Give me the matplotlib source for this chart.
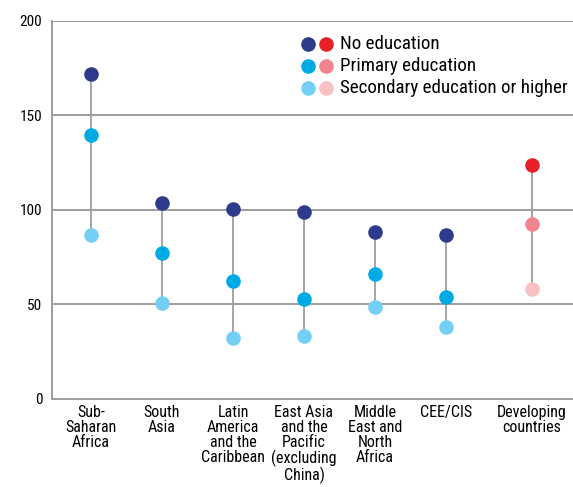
import matplotlib.pyplot as plt

categories = [
    "Sub-\nSaharan\nAfrica",
    "South\nAsia",
    "Latin\nAmerica\nand the\nCaribbean",
    "East Asia\nand the\nPacific\n(excluding\nChina)",
    "Middle\nEast and\nNorth\nAfrica",
    "CEE/CIS",
    "Developing\ncountries",
]
no_education = [172, 103.7, 100.5, 99, 88.4, 86.8, 123.8]
primary = [139.7, 77.2, 62.4, 52.9, 66.1, 54, 92.6]
secondary = [86.8, 50.8, 32.3, 33.3, 48.7, 38.1, 58.2]
yticks = [0, 50, 100, 150, 200]

plt.rcParams["font.family"] = ["Roboto Condensed", "DejaVu Sans"]

blue = ["#2e3a8c", "#00aae4", "#74cff4"]
red = ["#e8202a", "#f0848e", "#f8c1c3"]
grey = "#9d9d9d"

x = [0, 1, 2, 3, 4, 5, 6.21]

fig = plt.figure(figsize=(5.73, 4.87), dpi=100)
ax = fig.add_axes([0.0908, 0.1807, 0.9092, 0.7762])

for y in yticks[1:]:
    ax.axhline(y, color=grey, lw=1.4, zorder=1)

for i in range(len(categories)):
    cols = red if i == len(categories) - 1 else blue
    ax.plot([x[i], x[i]], [secondary[i], no_education[i]], color=grey, lw=1.3, zorder=2)
    ax.plot(x[i], no_education[i], "o", color=cols[0], ms=10.5, mec="none", zorder=3)
    ax.plot(x[i], primary[i], "o", color=cols[1], ms=10.5, mec="none", zorder=3)
    ax.plot(x[i], secondary[i], "o", color=cols[2], ms=10.5, mec="none", zorder=3)

ax.set_xlim(-0.55, 6.79)
ax.set_ylim(0, 200)
ax.set_yticks(yticks)
ax.set_xticks(x)
ax.set_xticklabels(categories, linespacing=1.0, va="top")
ax.tick_params(axis="both", length=0, labelsize=11)
ax.tick_params(axis="x", labelsize=11.5, pad=4)
ax.tick_params(axis="y", pad=7)

for s in ["top", "right"]:
    ax.spines[s].set_visible(False)
for s in ["left", "bottom"]:
    ax.spines[s].set_color(grey)
    ax.spines[s].set_linewidth(1.4)

labels = ["No education", "Primary education", "Secondary education or higher"]
for k, lab in enumerate(labels):
    yy = 0.94 - k * 0.058
    ax.plot(0.492, yy, "o", color=blue[k], ms=10.5, mec="none", transform=ax.transAxes, clip_on=False)
    ax.plot(0.526, yy, "o", color=red[k], ms=10.5, mec="none", transform=ax.transAxes, clip_on=False)
    ax.text(0.553, yy, lab, fontsize=13.7, va="center", ha="left", transform=ax.transAxes)

fig.savefig("out.png", dpi=100)
